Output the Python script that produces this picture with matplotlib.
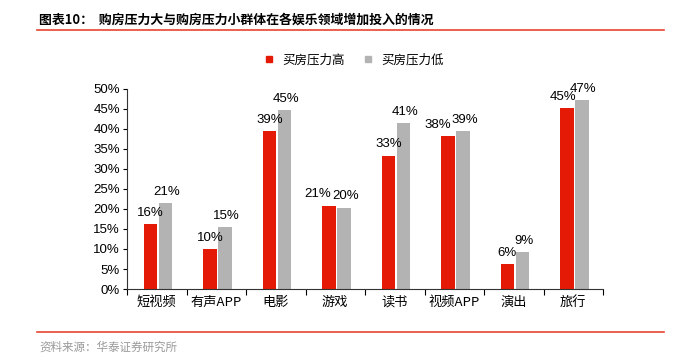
import numpy as np
import matplotlib
matplotlib.use("Agg")
import matplotlib.pyplot as plt
from matplotlib.lines import Line2D
from matplotlib.ticker import FuncFormatter, FixedLocator

plt.rcParams['font.family'] = ['Liberation Sans', 'Noto Sans CJK SC', 'DejaVu Sans']

categories = ["短视频", "有声APP", "电影", "游戏", "读书", "视频APP", "演出", "旅行"]
high_pressure = [16.2, 9.9, 39.4, 20.8, 33.3, 38.2, 6.2, 45.2]
low_pressure = [21.4, 15.4, 44.7, 20.3, 41.4, 39.4, 9.2, 47.2]
series_names = ["买房压力高", "买房压力低"]
title = "图表10：  购房压力大与购房压力小群体在各娱乐领域增加投入的情况"
source = "资料来源：华泰证券研究所"

RED = "#E41A06"
GRAY = "#B3B3B3"

fig = plt.figure(figsize=(6.75, 3.59), dpi=100)
W, H = 675, 359
ax = fig.add_axes([127 / W, 1 - 289 / H, (603 - 127) / W, 200 / H])

x = np.arange(len(categories))
bw = 0.225
gap = 0.03
xr = x - bw / 2 - gap / 2 + 0.02
xg = x + bw / 2 + gap / 2 + 0.02
ax.bar(xr, high_pressure, width=bw, color=RED, edgecolor="none")
ax.bar(xg, low_pressure, width=bw, color=GRAY, edgecolor="none")

# red labels nudged left where they would collide with the grey ones
red_shift = {3: -8, 5: -7, 7: -3}
for i, (xi, v) in enumerate(zip(xr, high_pressure)):
    ax.annotate(f"{v:.0f}%", (xi, v), xytext=(red_shift.get(i, 0), 4),
                textcoords="offset points", ha="center", va="bottom", fontsize=9.5)
for xi, v in zip(xg, low_pressure):
    ax.annotate(f"{v:.0f}%", (xi, v), xytext=(1, 4),
                textcoords="offset points", ha="center", va="bottom", fontsize=9.5)

ax.set_xlim(-0.5, len(categories) - 0.5)
ax.set_ylim(0, 50)
ax.set_yticks(np.arange(0, 51, 5))
ax.yaxis.set_major_formatter(FuncFormatter(lambda v, p: f"{v:.0f}%"))
ax.tick_params(axis="y", labelsize=9.5, length=3, direction="out", pad=2)

ax.xaxis.set_major_locator(FixedLocator(np.arange(-0.5, len(categories), 1.0)))
ax.set_xticklabels([])
ax.xaxis.set_minor_locator(FixedLocator(x))
ax.set_xticklabels(categories, minor=True, fontsize=9.5,
                   family=['Noto Sans CJK SC', 'DejaVu Sans'])
ax.tick_params(axis="x", which="major", length=4, direction="out")
ax.tick_params(axis="x", which="minor", length=0, pad=5)

for s in ["top", "right"]:
    ax.spines[s].set_visible(False)
for s in ["left", "bottom"]:
    ax.spines[s].set_color("#333333")
    ax.spines[s].set_linewidth(0.8)

# legend
handles = [Line2D([], [], marker="s", linestyle="none", markersize=5, color=RED),
           Line2D([], [], marker="s", linestyle="none", markersize=5, color=GRAY)]
fig.legend(handles, series_names, loc="center", bbox_to_anchor=(350 / W, 1 - 60 / H),
           ncol=2, frameon=False, handletextpad=0.05, columnspacing=0.9,
           prop={'family': ['Noto Sans CJK SC'], 'size': 9})

# header and footer
fig.text(39 / W, 1 - 20 / H, title, fontsize=9.3, fontweight="bold",
         family=['Noto Sans CJK SC'], va="center", ha="left")
fig.add_artist(Line2D([37 / W, 664 / W], [1 - 30 / H, 1 - 30 / H], color="#E8452F", linewidth=1.2))
fig.add_artist(Line2D([37 / W, 664 / W], [1 - 332 / H, 1 - 332 / H], color="#E8452F", linewidth=1.2))
fig.text(39 / W, 1 - 347 / H, source, fontsize=8.3, color="#999999",
         family=['Noto Sans CJK SC'], va="center", ha="left")

fig.savefig("out.png", dpi=100)
